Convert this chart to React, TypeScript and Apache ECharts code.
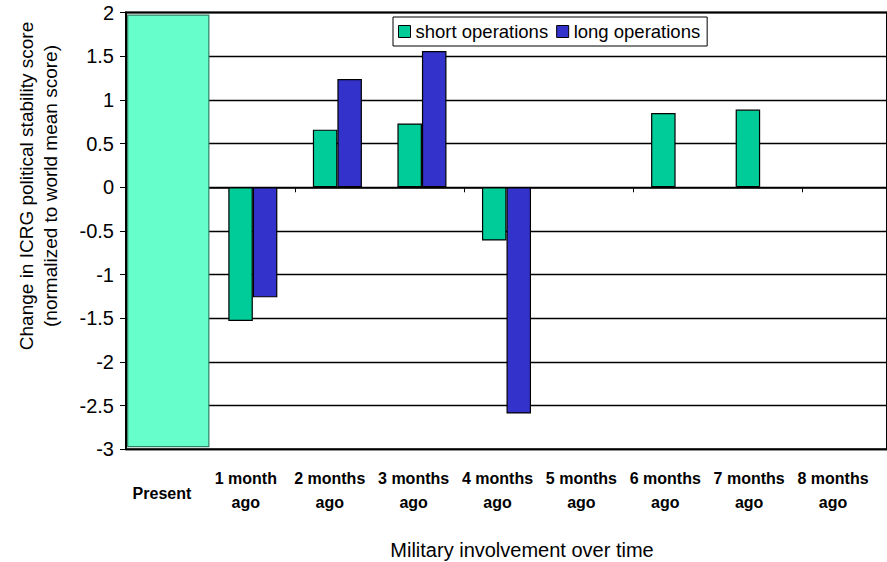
import React, { useEffect, useRef } from "react";
import * as echarts from "echarts";

const categories = [
  "Present",
  "1 month ago",
  "2 months ago",
  "3 months ago",
  "4 months ago",
  "5 months ago",
  "6 months ago",
  "7 months ago",
  "8 months ago",
];
const shortOps: (number | null)[] = [null, -1.53, 0.66, 0.73, -0.61, null, 0.85, 0.89, null];
const longOps: (number | null)[] = [null, -1.26, 1.24, 1.56, -2.59, null, null, null, null];
const presentBand = [[0, 1.97, -2.97]];
const yTicks = { min: -3, max: 2, interval: 0.5 };
const yTitle = "Change in ICRG political stability score\n(normalized to world mean score)";
const xTitle = "Military involvement over time";
const seriesNames = ["short operations", "long operations"];

const FONT = "'Liberation Sans', Arial, sans-serif";

export default function App() {
  const ref = useRef<HTMLDivElement>(null);
  useEffect(() => {
    if (!ref.current) return;
    const chart = echarts.init(ref.current, null, { renderer: "svg" });
    const gridTop = 12.6;
    const gridHeight = 436.7;
    chart.setOption({
      animation: false,
      backgroundColor: "#fff",
      textStyle: { fontFamily: FONT, color: "#000" },
      grid: [
        {
          left: 126,
          top: gridTop,
          width: 770.4,
          height: gridHeight,
          show: true,
          borderColor: "#000",
          borderWidth: 2,
          backgroundColor: "transparent",
        },
        { left: 120, top: gridTop, width: 755, height: gridHeight, show: false },
      ],
      legend: {
        data: seriesNames,
        left: 393,
        top: 17,
        orient: "horizontal",
        backgroundColor: "#fff",
        borderColor: "#000",
        borderWidth: 1,
        borderRadius: 0,
        padding: [5, 7, 5, 5],
        itemWidth: 12,
        itemHeight: 12,
        itemGap: 8,
        icon: "rect",
        textStyle: { fontSize: 18.5, fontFamily: FONT, color: "#000" },
        itemStyle: { borderColor: "#000", borderWidth: 1 },
      },
      xAxis: [
        {
          type: "category",
          gridIndex: 0,
          data: categories,
          boundaryGap: true,
          axisLine: { show: true, onZero: true, lineStyle: { color: "#000", width: 1.5 } },
          axisTick: { show: true, length: 5, inside: false, lineStyle: { color: "#000", width: 1 } },
          axisLabel: { show: false },
          splitLine: { show: false },
        },
        {
          type: "category",
          gridIndex: 1,
          data: categories.map((c, i) =>
            i === 0 ? { value: c, textStyle: { lineHeight: 54 } } : { value: c }
          ),
          boundaryGap: true,
          position: "bottom",
          axisLine: { show: false },
          axisTick: { show: false },
          axisLabel: {
            show: true,
            interval: 0,
            margin: 17,
            fontSize: 16,
            fontWeight: "bold",
            lineHeight: 24,
            fontFamily: FONT,
            color: "#000",
            formatter: (v: string) => v.replace(" ago", "\nago"),
          },
        },
      ],
      yAxis: [
        {
          type: "value",
          gridIndex: 0,
          min: yTicks.min,
          max: yTicks.max,
          interval: yTicks.interval,
          axisLine: { show: true, lineStyle: { color: "#000", width: 2 } },
          axisTick: { show: true, length: 6, lineStyle: { color: "#000", width: 1 } },
          axisLabel: {
            show: true,
            margin: 12,
            fontSize: 20,
            fontFamily: FONT,
            color: "#000",
          },
          splitLine: { show: true, lineStyle: { color: "#000", width: 1.3 } },
        },
        { type: "value", gridIndex: 1, show: false, min: yTicks.min, max: yTicks.max },
      ],
      graphic: [
        {
          type: "text",
          x: 38,
          y: 186,
          rotation: Math.PI / 2,
          style: {
            text: yTitle,
            font: `19px ${FONT}`,
            fill: "#000",
            textAlign: "center",
            textVerticalAlign: "middle",
            lineHeight: 24,
          },
        },
        {
          type: "text",
          x: 522,
          y: 550,
          style: {
            text: xTitle,
            font: `20px ${FONT}`,
            fill: "#000",
            textAlign: "center",
            textVerticalAlign: "middle",
          },
        },
      ],
      series: [
        {
          type: "custom",
          name: "present",
          xAxisIndex: 0,
          yAxisIndex: 0,
          data: presentBand,
          encode: { x: 0, y: [1, 2] },
          z: 1,
          renderItem: (params: any, api: any) => {
            const top = api.coord([api.value(0), api.value(1)]);
            const bottom = api.coord([api.value(0), api.value(2)]);
            const w = api.size([1, 0])[0] * 0.96;
            return {
              type: "rect",
              shape: { x: top[0] - w / 2, y: top[1], width: w, height: bottom[1] - top[1] },
              style: { fill: "#66FFCC", stroke: "#2F7F66", lineWidth: 1.2 },
            };
          },
        },
        {
          type: "bar",
          name: seriesNames[0],
          xAxisIndex: 0,
          yAxisIndex: 0,
          data: shortOps,
          barGap: "0%",
          barCategoryGap: "42%",
          itemStyle: { color: "#00CC99", borderColor: "#000", borderWidth: 1.2 },
          z: 3,
        },
        {
          type: "bar",
          name: seriesNames[1],
          xAxisIndex: 0,
          yAxisIndex: 0,
          data: longOps,
          barGap: "0%",
          barCategoryGap: "42%",
          itemStyle: { color: "#3333CC", borderColor: "#000", borderWidth: 1.2 },
          z: 3,
        },
      ],
    });
    return () => chart.dispose();
  }, []);
  return (
    <div
      ref={ref}
      style={{ position: "fixed", left: 0, top: 0, width: 887, height: 562, background: "#fff" }}
    />
  );
}
